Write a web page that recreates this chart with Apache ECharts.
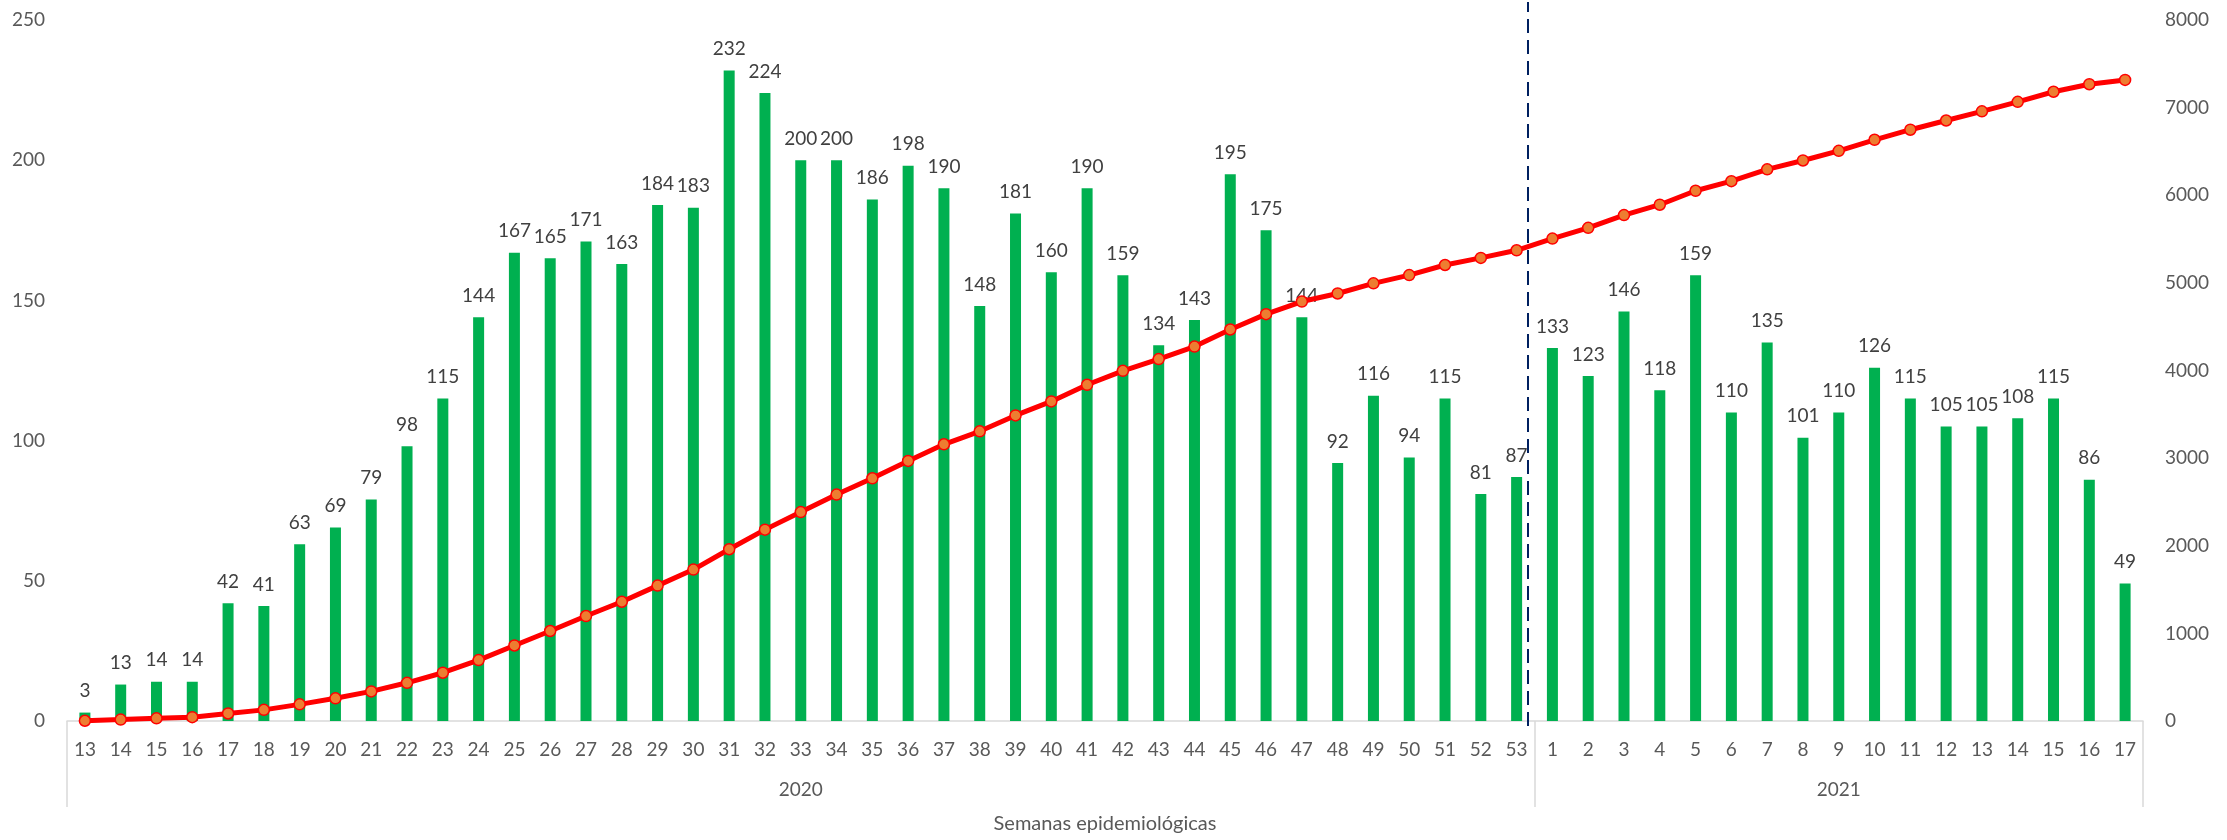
<!DOCTYPE html>
<html>
<head>
<meta charset="utf-8">
<script src="https://cdn.jsdelivr.net/npm/echarts@6/dist/echarts.min.js"></script>
<style>
html,body{margin:0;padding:0;background:#ffffff;}
#c{width:2227px;height:840px;}
</style>
</head>
<body>
<div id="c"></div>
<script>
// Categories
const weeks2020 = ['13','14','15','16','17','18','19','20','21','22','23','24','25','26','27','28','29','30','31','32','33','34','35','36','37','38','39','40','41','42','43','44','45','46','47','48','49','50','51','52','53'];
const weeks2021 = ['1','2','3','4','5','6','7','8','9','10','11','12','13','14','15','16','17'];
const years = ['2020', '2021'];

// Weekly cases (bars, left axis)
const cases2020 = [3,13,14,14,42,41,63,69,79,98,115,144,167,165,171,163,184,183,232,224,200,200,186,198,190,148,181,160,190,159,134,143,195,175,144,92,116,94,115,81,87];
const cases2021 = [133,123,146,118,159,110,135,101,110,126,115,105,105,108,115,86,49];

// Cumulative cases (line, right axis)
const cumulative = [3,16,30,44,86,127,190,259,338,436,551,695,862,1027,1198,1361,1545,1728,1960,2184,2384,2584,2770,2968,3158,3306,3487,3647,3837,3996,4130,4273,4468,4643,4787,4879,4995,5089,5204,5285,5372,
                    5505,5628,5774,5892,6051,6161,6296,6397,6507,6633,6748,6853,6958,7066,7181,7267,7316];

// Axis ticks
const leftAxis = {min: 0, max: 250, interval: 50};
const rightAxis = {min: 0, max: 8000, interval: 1000};
const xAxisTitle = 'Semanas epidemiológicas';

// Derived
const categories = weeks2020.concat(weeks2021);
const cases = cases2020.concat(cases2021);
const groupSizes = [weeks2020.length, weeks2021.length];
const yearAxisData = [];
const groupStarts = [];
let start = 0;
groupSizes.forEach(function (n, g) {
  groupStarts.push(start);
  for (let i = 0; i < n; i++) {
    yearAxisData.push(i === Math.floor((n - 1) / 2) ? years[g] : '');
  }
  start += n;
});
const splitPos = weeks2020.length - 0.2; // dashed separator, slightly left of the year boundary

const FONT = 'Lato, "Open Sans", sans-serif';
const GRID = {left: 67, right: 84, top: 20, bottom: 119};

const chart = echarts.init(document.getElementById('c'), null, {renderer: 'canvas'});
chart.setOption({
  animation: false,
  backgroundColor: '#ffffff',
  textStyle: {fontFamily: FONT},
  grid: [
    {left: GRID.left, right: GRID.right, top: GRID.top, bottom: GRID.bottom},
    {left: GRID.left, right: GRID.right, top: 2, bottom: 114}
  ],
  xAxis: [
    {
      type: 'category', gridIndex: 0, data: categories, position: 'bottom',
      axisLine: {show: true, lineStyle: {color: '#D9D9D9', width: 1.5}},
      axisTick: {show: false},
      axisLabel: {interval: 0, color: '#595959', fontSize: 19, margin: 19, fontFamily: FONT},
      name: xAxisTitle, nameLocation: 'middle', nameGap: 93,
      nameTextStyle: {color: '#595959', fontSize: 20, fontFamily: FONT},
      splitLine: {show: false}
    },
    {
      type: 'category', gridIndex: 0, data: yearAxisData, position: 'bottom',
      axisLine: {show: false},
      axisTick: {show: true, length: 86, interval: function (idx) { return groupStarts.indexOf(idx) >= 0; },
                 lineStyle: {color: '#D9D9D9', width: 1.5}},
      axisLabel: {interval: function (idx, val) { return val !== ''; }, color: '#595959', fontSize: 19, margin: 59, fontFamily: FONT},
      splitLine: {show: false}
    },
    {
      type: 'value', gridIndex: 1, min: 0, max: categories.length, show: false
    }
  ],
  yAxis: [
    {
      type: 'value', gridIndex: 0, position: 'left', min: leftAxis.min, max: leftAxis.max, interval: leftAxis.interval,
      axisLine: {show: false}, axisTick: {show: false}, splitLine: {show: false},
      axisLabel: {color: '#595959', fontSize: 19, margin: 22, fontFamily: FONT, formatter: function (v) { return String(v); }}
    },
    {
      type: 'value', gridIndex: 0, position: 'right', min: rightAxis.min, max: rightAxis.max, interval: rightAxis.interval,
      axisLine: {show: false}, axisTick: {show: false}, splitLine: {show: false},
      axisLabel: {color: '#595959', fontSize: 19, margin: 22, fontFamily: FONT, formatter: function (v) { return String(v); }}
    },
    {
      type: 'value', gridIndex: 1, min: 0, max: 1, show: false
    }
  ],
  series: [
    {
      name: 'Casos', type: 'bar', xAxisIndex: 0, yAxisIndex: 0, data: cases,
      barWidth: 11,
      itemStyle: {color: '#00B050'},
      label: {show: true, position: 'top', distance: 12, color: '#404040', fontSize: 19, fontFamily: FONT},
      z: 2
    },
    {
      name: 'Acumulado', type: 'line', xAxisIndex: 0, yAxisIndex: 1, data: cumulative,
      lineStyle: {color: '#FF0000', width: 5},
      symbol: 'circle', symbolSize: 11, showAllSymbol: true,
      itemStyle: {color: '#ED7D31', borderColor: '#FF0000', borderWidth: 1.5},
      z: 3
    },
    {
      name: 'sep', type: 'line', xAxisIndex: 2, yAxisIndex: 2, data: [[splitPos, 0.5]],
      symbol: 'none', lineStyle: {opacity: 0}, silent: true,
      markLine: {
        silent: true, symbol: ['none', 'none'], label: {show: false},
        lineStyle: {color: '#002060', width: 2, type: [14, 7]},
        data: [{xAxis: splitPos}]
      },
      z: 4
    }
  ]
});
</script>
</body>
</html>
